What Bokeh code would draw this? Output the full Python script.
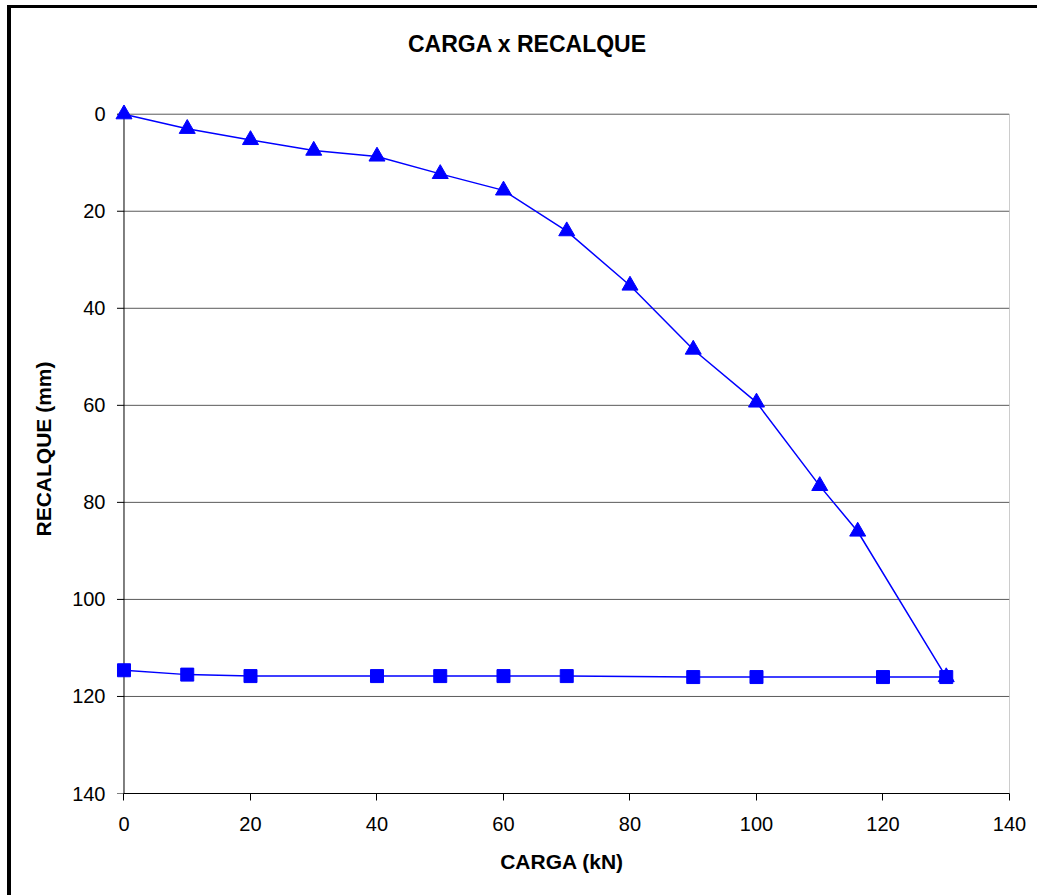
from bokeh.plotting import figure
from bokeh.models import Range1d, FixedTicker, Div
from bokeh.layouts import column
from bokeh.embed import file_html
from bokeh.resources import INLINE

# Load test: applied load (kN) vs settlement (mm)
carga_ensaio = [0, 10, 20, 30, 40, 50, 60, 70, 80, 90, 100, 110, 116, 130]
recalque_ensaio = [0, 3.0, 5.3, 7.5, 8.7, 12.3, 15.7, 24.1, 35.3, 48.5, 59.4, 76.6, 86.0, 116.0]

carga_desc = [0, 10, 20, 40, 50, 60, 70, 90, 100, 120, 130]
recalque_desc = [114.6, 115.5, 115.8, 115.8, 115.8, 115.8, 115.8, 116.0, 116.0, 116.0, 116.0]

x_ticks = [0, 20, 40, 60, 80, 100, 120, 140]
y_ticks = [0, 20, 40, 60, 80, 100, 120, 140]

FONT = "Liberation Sans"
BLUE = "#0000FF"

x_lo, x_hi = x_ticks[0], x_ticks[-1]
y_lo, y_hi = y_ticks[0], y_ticks[-1]
x_pad, y_pad = 1.5, 2.0   # room so markers on the axes are not cut

W, H_TITLE, H_PLOT = 1026, 62, 825

title = Div(
    text="CARGA x RECALQUE",
    width=W, height=H_TITLE,
    margin=(0, 0, 0, 0),
    styles={
        "font-family": FONT,
        "font-size": "23px",
        "font-weight": "bold",
        "line-height": "26px",
        "color": "black",
        "text-align": "center",
        "padding-top": "23px",
        "padding-left": "6px",
        "box-sizing": "border-box",
        "background": "white",
    },
)

p = figure(
    width=W, height=H_PLOT,
    x_range=Range1d(x_lo - x_pad, x_hi), y_range=Range1d(y_hi, y_lo - y_pad),
    output_backend="svg", toolbar_location=None,
    min_border_left=103, min_border_right=28,
    min_border_top=34, min_border_bottom=102,
)

p.background_fill_color = "white"
p.border_fill_color = "white"
p.outline_line_color = None

for ax, ticks in ((p.xaxis[0], x_ticks), (p.yaxis[0], y_ticks)):
    ax.ticker = FixedTicker(ticks=ticks)
    ax.bounds = (ticks[0], ticks[-1])
    ax.minor_tick_line_color = None
    ax.major_label_text_font = FONT
    ax.major_label_text_font_size = "20px"
    ax.major_label_text_color = "black"
    ax.axis_label_text_font = FONT
    ax.axis_label_text_font_size = "21px"
    ax.axis_label_text_font_style = "bold"
    ax.axis_label_text_color = "black"

p.xaxis.axis_line_color = "black"
p.xaxis.major_tick_line_color = "black"
p.xaxis.major_tick_out = 7
p.xaxis.major_tick_in = 0
p.xaxis.major_label_standoff = 16
p.xaxis.axis_label_standoff = 16
p.xaxis.axis_label = "CARGA (kN)"

# the vertical axis line and its ticks are drawn at x = 0 below
p.yaxis.axis_line_color = None
p.yaxis.major_tick_line_color = None
p.yaxis.major_tick_out = 0
p.yaxis.major_tick_in = 0
p.yaxis.major_label_standoff = 9
p.yaxis.axis_label_standoff = 14
p.yaxis.axis_label = "RECALQUE (mm)"

p.xgrid.grid_line_color = None
p.ygrid.grid_line_color = None

# horizontal gridlines and the plot area's right edge
p.segment(x0=x_lo, x1=x_hi, y0=y_ticks[:-1], y1=y_ticks[:-1],
          line_color="#5a5a5a", line_width=1)
p.segment(x0=x_hi, x1=x_hi, y0=y_lo, y1=y_hi, line_color="#9a9a9a", line_width=1)

# vertical axis at x = 0 with outward ticks (7 px)
tick_len = 7 * (x_hi - x_lo + x_pad) / (W - 103 - 28)
p.segment(x0=x_lo, x1=x_lo, y0=y_lo, y1=y_hi, line_color="black", line_width=1)
p.segment(x0=x_lo - tick_len, x1=x_lo, y0=y_ticks, y1=y_ticks,
          line_color="black", line_width=1)

p.line(carga_desc, recalque_desc, line_color=BLUE, line_width=1.5)
p.scatter(carga_desc, recalque_desc, marker="square", size=13,
          fill_color=BLUE, line_color=BLUE)

p.line(carga_ensaio, recalque_ensaio, line_color=BLUE, line_width=1.5)
p.scatter(carga_ensaio, recalque_ensaio, marker="triangle", size=16,
          fill_color=BLUE, line_color=BLUE)

layout = column(title, p, spacing=0)
layout.styles = {
    "border-top": "3px solid black",
    "border-left": "4px solid black",
    "margin-left": "7px",
    "margin-top": "5px",
    "background": "white",
}

open("out.html", "w").write(file_html(layout, INLINE))
